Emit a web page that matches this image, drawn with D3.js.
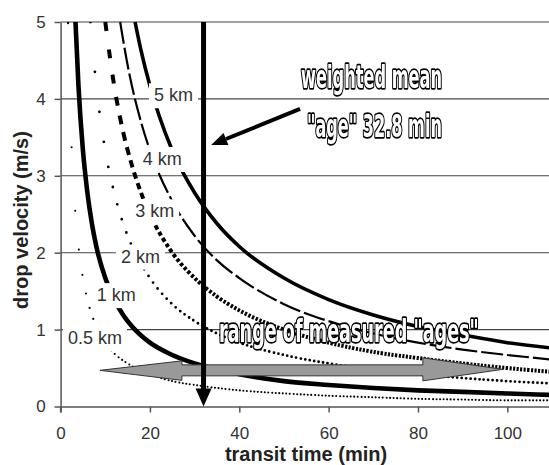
<!DOCTYPE html>
<html>
<head>
<meta charset="utf-8">
<script src="https://cdn.jsdelivr.net/npm/d3@7"></script>
<style>
  html, body { margin: 0; padding: 0; background: #fff; }
  svg { display: block; font-family: "Liberation Sans", Arial, sans-serif; }
</style>
</head>
<body>
<div id="chart"></div>
<script>
// ---- data: [transit time (min), drop velocity (m/s)] ----
const curve05km = [[1.67, 4.99], [2, 4.17], [2.5, 3.33], [3, 2.78], [3.5, 2.38], [4, 2.08], [5, 1.67],
  [6, 1.39], [7, 1.19], [8, 1.04], [10, 0.83], [12, 0.69], [15, 0.56], [20, 0.42], [25, 0.33],
  [30, 0.28], [40, 0.21], [50, 0.17], [60, 0.14], [70, 0.12], [80, 0.10], [90, 0.09], [100, 0.08], [110, 0.08]];
const curve1km = [[3.33, 5.0], [4, 4.17], [5, 3.33], [6, 2.78], [7, 2.38], [8, 2.08], [10, 1.67],
  [12, 1.39], [14, 1.19], [16, 1.04], [20, 0.83], [25, 0.67], [30, 0.56], [40, 0.42], [50, 0.33],
  [60, 0.28], [70, 0.24], [80, 0.21], [90, 0.19], [100, 0.17], [110, 0.15]];
const curve2km = [[6.67, 5.0], [8, 4.17], [10, 3.33], [12, 2.78], [14, 2.38], [16, 2.08], [20, 1.67],
  [25, 1.33], [30, 1.11], [35, 0.95], [40, 0.83], [50, 0.67], [60, 0.56], [70, 0.48], [80, 0.42],
  [90, 0.37], [100, 0.33], [110, 0.30]];
const curve3km = [[10, 5.0], [12, 4.17], [14, 3.57], [16, 3.13], [18, 2.78], [20, 2.5], [25, 2.0],
  [30, 1.67], [35, 1.43], [40, 1.25], [50, 1.0], [60, 0.83], [70, 0.71], [80, 0.63], [90, 0.56],
  [100, 0.5], [110, 0.45]];
const curve4km = [[13.33, 5.0], [15, 4.44], [18, 3.70], [20, 3.33], [25, 2.67], [30, 2.22], [35, 1.90],
  [40, 1.67], [50, 1.33], [60, 1.11], [70, 0.95], [80, 0.83], [90, 0.74], [100, 0.67], [110, 0.61]];
const curve5km = [[16.67, 5.0], [18, 4.63], [20, 4.17], [22, 3.79], [25, 3.33], [30, 2.78], [35, 2.38],
  [40, 2.08], [50, 1.67], [60, 1.39], [70, 1.19], [80, 1.04], [90, 0.93], [100, 0.83], [110, 0.76]];

const curveNames = ["0.5 km", "1 km", "2 km", "3 km", "4 km", "5 km"];
const curveData = [curve05km, curve1km, curve2km, curve3km, curve4km, curve5km];

const xTicks = [0, 20, 40, 60, 80, 100];
const yTicks = [0, 1, 2, 3, 4, 5];

const meanAge = 32;          // vertical arrow (labelled 32.8 min)
const ageRange = [8.8, 99];  // grey double arrow, "range of measured ages"
const ageRangeVel = 0.47;

// ---- layout ----
const width = 549, height = 465;
const x = d3.scaleLinear().domain([0, 110]).range([60.6, 552]);
const y = d3.scaleLinear().domain([0, 5]).range([406.5, 22]);

// line look for each distance
const styles = {
  "0.5 km": { kind: "dots", w: 2.1, step: 0.8 },
  "1 km":   { kind: "solid", w: 4.6 },
  "2 km":   { kind: "dots", w: 2.8, step: 1 },
  "3 km":   { kind: "dashes", w: 4, step: 0.8 },
  "4 km":   { kind: "dash", w: 2.2, dash: "22,4" },
  "5 km":   { kind: "solid", w: 3.6 }
};
// label anchor (data units) for each distance
const labelPos = {
  "0.5 km": [1.65, 0.81], "1 km": [8.1, 1.37], "2 km": [13.5, 1.87],
  "3 km": [16.7, 2.46], "4 km": [18.4, 3.14], "5 km": [20.9, 3.97]
};

const svg = d3.select('#chart')
  .append('svg')
  .attr('width', width)
  .attr('height', height);

svg.append('defs').append('clipPath')
  .attr('id', 'plot-clip')
  .append('rect')
  .attr('x', x(0)).attr('y', y(5))
  .attr('width', x(110) - x(0)).attr('height', y(0) - y(5));

// gridlines
svg.append('g')
  .selectAll('line')
  .data(yTicks.filter(d => d > 0))
  .enter()
  .append('line')
  .attr('x1', x(0)).attr('x2', x(110))
  .attr('y1', d => y(d)).attr('y2', d => y(d))
  .attr('stroke', '#444')
  .attr('stroke-width', 1.1);

// axes
const yAxis = svg.append('g')
  .attr('transform', `translate(${x(0)},0)`)
  .call(d3.axisLeft(y).tickValues(yTicks).tickFormat(d3.format('d')).tickSize(6).tickSizeOuter(0).tickPadding(9));
const xAxis = svg.append('g')
  .attr('transform', `translate(0,${y(0)})`)
  .call(d3.axisBottom(x).tickValues(xTicks).tickFormat(d3.format('d')).tickSize(6).tickSizeOuter(0).tickPadding(14.5));
[yAxis, xAxis].forEach(ax => {
  ax.select('.domain').attr('stroke', '#555').attr('stroke-width', 1.5);
  ax.selectAll('.tick line').attr('stroke', '#555').attr('stroke-width', 1.5);
  ax.selectAll('.tick text')
    .attr('fill', '#333')
    .style('font-size', '17px')
    .style('font-family', '"Liberation Sans", Arial, sans-serif');
});
// y axis line reaches down with the x=0 tick
svg.append('line')
  .attr('x1', x(0)).attr('x2', x(0))
  .attr('y1', y(0)).attr('y2', y(0) + 6)
  .attr('stroke', '#555').attr('stroke-width', 1.5);

// axis titles
svg.append('text')
  .attr('x', 306).attr('y', 461)
  .attr('text-anchor', 'middle')
  .style('font-size', '20px')
  .style('font-weight', 'bold')
  .attr('fill', '#222')
  .text('transit time (min)');
svg.append('text')
  .attr('transform', 'translate(28,220) rotate(-90)')
  .attr('text-anchor', 'middle')
  .style('font-size', '20px')
  .style('font-weight', 'bold')
  .attr('fill', '#222')
  .text('drop velocity (m/s)');

// curves
const line = d3.line()
  .x(d => x(d[0]))
  .y(d => y(d[1]))
  .curve(d3.curveMonotoneX);

const plot = svg.append('g').attr('clip-path', 'url(#plot-clip)');

// lengths along a path where equal time steps fall (like spreadsheet markers)
function markLengths(path, tStart, step) {
  const total = path.getTotalLength();
  const samples = [];
  for (let l = 0; l <= total; l += 0.5) samples.push([l, path.getPointAtLength(l).x]);
  samples.push([total, path.getPointAtLength(total).x]);
  const lenAt = px => {
    let lo = 0, hi = samples.length - 1;
    while (lo < hi) {
      const mid = (lo + hi) >> 1;
      if (samples[mid][1] < px) lo = mid + 1; else hi = mid;
    }
    return samples[lo][0];
  };
  const lens = [];
  for (let t = tStart; t <= 111; t += step) lens.push(lenAt(x(t)));
  return { lens, total };
}

curveNames.forEach((name, i) => {
  const data = curveData[i];
  const st = styles[name];
  const path = plot.append('path')
    .datum(data)
    .attr('d', line)
    .attr('fill', 'none')
    .attr('stroke', '#000')
    .attr('stroke-width', st.w);

  if (st.kind === 'dash') {
    path.attr('stroke-dasharray', st.dash);
  } else if (st.kind === 'dots' || st.kind === 'dashes') {
    const { lens, total } = markLengths(path.node(), data[0][0], st.step);
    const arr = [];
    if (st.kind === 'dots') {
      arr.push(0, lens[0]);
      for (let k = 1; k < lens.length; k++) arr.push(0, lens[k] - lens[k - 1]);
      path.attr('stroke-linecap', 'round');
    } else {
      for (let k = 0; k < lens.length - 1; k++) {
        const seg = lens[k + 1] - lens[k];
        const dash = Math.min(9, seg * 0.6);
        arr.push(dash, seg - dash);
      }
    }
    arr.push(0, total + 10);
    path.attr('stroke-dasharray', arr.map(v => v.toFixed(2)).join(','));
  }
});

// distance labels on white boxes
curveNames.forEach(name => {
  const [lt, lv] = labelPos[name];
  const g = svg.append('g');
  const box = g.append('rect').attr('fill', '#fff');
  const txt = g.append('text')
    .attr('x', x(lt)).attr('y', y(lv))
    .attr('fill', '#333')
    .style('font-size', '18px')
    .text(name);
  const w = txt.node().getComputedTextLength();
  box.attr('x', x(lt) - 5).attr('y', y(lv) - 18)
    .attr('width', w + 10).attr('height', 25);
});

// grey double arrow: range of measured ages
const ay = y(ageRangeVel);
const xl = x(ageRange[0]), xr = x(ageRange[1]);
const headL = 82, headR = 80;
const grey = [
  [xl, ay], [xl + headL, ay - 9.5], [xl + headL, ay - 5.5],
  [xr - headR, ay - 5.5], [xr - headR, ay - 12.5], [xr, ay - 1],
  [xr - headR, ay + 10.5], [xr - headR, ay + 5.5],
  [xl + headL, ay + 5.5], [xl + headL, ay + 10]
];
svg.append('path')
  .attr('d', d3.line()(grey) + 'Z')
  .attr('fill', '#999')
  .attr('stroke', '#333')
  .attr('stroke-width', 1);

// vertical arrow at weighted mean age
const mx = x(meanAge);
svg.append('line')
  .attr('x1', mx).attr('x2', mx)
  .attr('y1', y(5)).attr('y2', y(0) - 16)
  .attr('stroke', '#000')
  .attr('stroke-width', 5);
svg.append('path')
  .attr('d', d3.line()([[mx - 8, y(0) - 18], [mx + 8, y(0) - 18], [mx, y(0)]]) + 'Z')
  .attr('fill', '#000');

// diagonal pointer arrow
const p0 = [x(53.6), y(3.87)], p1 = [x(33.7), y(3.40)];
const ang = Math.atan2(p1[1] - p0[1], p1[0] - p0[0]);
const hl = 16, hw = 6.5;
const base = [p1[0] - hl * Math.cos(ang), p1[1] - hl * Math.sin(ang)];
svg.append('line')
  .attr('x1', p0[0]).attr('y1', p0[1])
  .attr('x2', base[0]).attr('y2', base[1])
  .attr('stroke', '#000')
  .attr('stroke-width', 4);
svg.append('path')
  .attr('d', d3.line()([
    p1,
    [base[0] + hw * Math.sin(ang), base[1] - hw * Math.cos(ang)],
    [base[0] - hw * Math.sin(ang), base[1] + hw * Math.cos(ang)]
  ]) + 'Z')
  .attr('fill', '#000');

// outlined annotation text (white glyphs, black rim), narrow and tall
const outlined = [
  { text: 'weighted mean', x: 301, y: 88, len: 141 },
  { text: '"age" 32.8 min', x: 307, y: 137, len: 135 },
  { text: 'range of measured "ages"', x: 219, y: 342, len: 260 }
];
const outlineGroup = svg.append('g').style('opacity', 0.999);
outlined.forEach(d => {
  const t = outlineGroup.append('text')
    .attr('x', 0).attr('y', 0)
    .style('font-family', '"Liberation Sans Narrow", "DejaVu Sans Condensed", sans-serif')
    .style('font-weight', 'bold')
    .style('font-size', '24px')
    .style('paint-order', 'stroke fill')
    .attr('fill', '#fff')
    .attr('stroke', '#000')
    .attr('stroke-width', 2.6)
    .attr('stroke-linejoin', 'round')
    .text(d.text);
  const sx = d.len / t.node().getComputedTextLength();
  t.attr('transform', `translate(${d.x},${d.y}) scale(${sx.toFixed(3)},1.32)`);
});
</script>
</body>
</html>
